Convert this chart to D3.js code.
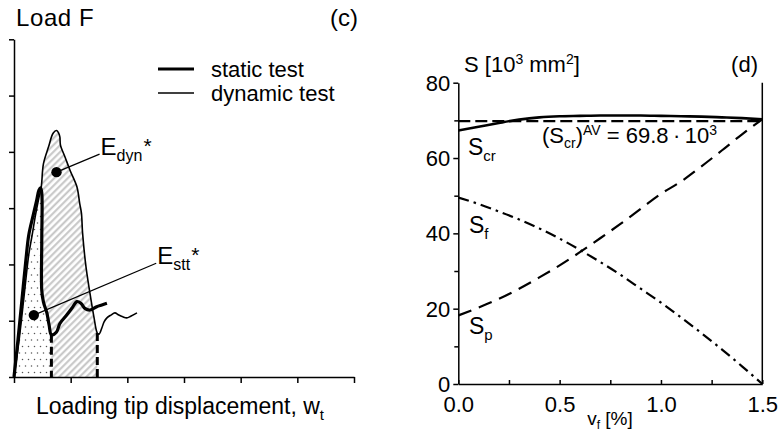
<!DOCTYPE html>
<html>
<head>
<meta charset="utf-8">
<script src="https://cdn.jsdelivr.net/npm/d3@7"></script>
<style>
  html, body { margin: 0; padding: 0; background: #fff; }
  svg text { font-family: "Liberation Sans", Arial, sans-serif; fill: #000; }
</style>
</head>
<body>
<svg id="chart" width="778" height="438"></svg>
<script>
"use strict";

// ---- panel (c): load vs. loading tip displacement (arbitrary units 0..6) ----
const gridTicks = [0, 1, 2, 3, 4, 5, 6];
// thick curve, static test: [w, F]
const staticCurve = [
  [0, 0], [0.07, 0.66], [0.14, 1.37], [0.21, 2.08], [0.26, 2.52], [0.34, 2.88],
  [0.40, 3.14], [0.44, 3.32], [0.47, 3.36], [0.49, 3.27], [0.49, 2.43], [0.49, 1.54],
  [0.52, 1.33], [0.58, 1.14], [0.62, 0.92], [0.66, 0.75], [0.75, 0.80], [0.81, 0.95],
  [0.93, 1.10], [1.02, 1.22], [1.11, 1.34], [1.18, 1.31], [1.25, 1.22], [1.34, 1.19],
  [1.46, 1.25], [1.55, 1.28], [1.64, 1.31]
];
const staticDip = 15; // index of the point where the dashed drop line sits
// thin curve, dynamic test
const dynamicCurve = [
  [0, 0], [0.09, 0.66], [0.18, 1.46], [0.26, 2.17], [0.32, 2.52], [0.38, 2.88],
  [0.43, 3.14], [0.48, 3.37], [0.52, 3.79], [0.61, 4.09], [0.69, 4.33], [0.75, 4.38],
  [0.79, 4.33], [0.81, 4.26], [0.82, 4.12], [0.90, 3.91], [0.99, 3.67], [1.11, 3.38],
  [1.16, 3.08], [1.19, 2.91], [1.21, 2.56], [1.27, 1.96], [1.34, 1.49], [1.41, 1.07],
  [1.47, 0.78], [1.50, 0.76], [1.55, 0.87], [1.59, 0.98], [1.64, 1.05], [1.71, 1.10],
  [1.78, 1.14], [1.85, 1.10], [1.92, 1.07], [1.99, 1.05], [2.06, 1.08], [2.17, 1.14]
];
const dynamicDip = 24;
const energyDots = [
  { name: "dyn", at: [0.75, 3.64], to: [1.51, 3.96] },
  { name: "stt", at: [0.35, 1.10], to: [2.51, 2.02] }
];

// ---- panel (d): S vs. fibre volume fraction ----
const vf = [0, 0.1, 0.2, 0.3, 0.4, 0.5, 0.6, 0.7, 0.8, 0.9, 1.0, 1.1, 1.2, 1.3, 1.4, 1.5];
const sCr = [67.3, 68.3, 69.3, 70.2, 70.8, 71.1, 71.2, 71.3, 71.3, 71.3, 71.2, 71.1, 71.0, 70.8, 70.6, 70.3];
const sF = [49.5, 47.8, 45.8, 43.7, 41.3, 38.6, 35.6, 32.4, 29.0, 25.3, 21.6, 17.6, 13.5, 9.2, 4.7, 0];
const sP = [18.2, 20.3, 22.6, 25.3, 28.3, 31.5, 35.0, 38.7, 42.5, 46.5, 50.5, 53.8, 57.8, 62.0, 66.3, 70.3];
const sCrAv = 69.8;
const yMajor = [0, 20, 40, 60, 80];
const yMinor = [10, 30, 50, 70];
const xTicks = [0, 0.25, 0.5, 0.75, 1.0, 1.25, 1.5];

const svg = d3.select("#chart");
svg.append("rect").attr("width", 778).attr("height", 438).attr("fill", "#fff");

const defs = svg.append("defs");
const hatch = defs.append("pattern").attr("id", "hatch").attr("patternUnits", "userSpaceOnUse")
  .attr("width", 4.8).attr("height", 4.8).attr("patternTransform", "rotate(45)");
hatch.append("rect").attr("width", 4.8).attr("height", 4.8).attr("fill", "#fff");
hatch.append("line").attr("x1", 1.2).attr("y1", 0).attr("x2", 1.2).attr("y2", 4.8)
  .attr("stroke", "#c4c4c4").attr("stroke-width", 2);
const dots = defs.append("pattern").attr("id", "dots").attr("patternUnits", "userSpaceOnUse")
  .attr("width", 6).attr("height", 13);
dots.append("rect").attr("width", 6).attr("height", 13).attr("fill", "#fff");
dots.append("circle").attr("cx", 1.5).attr("cy", 2).attr("r", 0.75).attr("fill", "#555");
dots.append("circle").attr("cx", 4.5).attr("cy", 8.5).attr("r", 0.75).attr("fill", "#555");

// ================= panel (c) =================
const xL = d3.scaleLinear([0, 6], [14, 354]);
const yL = d3.scaleLinear([0, 6], [377, 39.3]);
const gL = svg.append("g");

const smooth = d3.line().x(d => xL(d[0])).y(d => yL(d[1])).curve(d3.curveCatmullRom.alpha(0.5));
function areaTo(pts, dipIdx) {
  const part = pts.slice(0, dipIdx + 1);
  const dip = part[part.length - 1];
  return smooth(part) + `L${xL(dip[0])},${yL(0)}L${xL(0)},${yL(0)}Z`;
}

gL.append("path").attr("d", areaTo(dynamicCurve, dynamicDip)).attr("fill", "url(#hatch)");
gL.append("path").attr("d", areaTo(staticCurve, staticDip)).attr("fill", "url(#dots)");

[[staticCurve, staticDip], [dynamicCurve, dynamicDip]].forEach(([pts, i]) => {
  gL.append("line")
    .attr("x1", xL(pts[i][0])).attr("x2", xL(pts[i][0]))
    .attr("y1", yL(pts[i][1])).attr("y2", yL(0))
    .attr("stroke", "#000").attr("stroke-width", 3).attr("stroke-dasharray", "8,4");
});

gL.append("path").attr("d", smooth(dynamicCurve)).attr("fill", "none")
  .attr("stroke", "#000").attr("stroke-width", 1.6).attr("stroke-linejoin", "round");
gL.append("path").attr("d", smooth(staticCurve)).attr("fill", "none")
  .attr("stroke", "#000").attr("stroke-width", 3.2).attr("stroke-linejoin", "round");

energyDots.forEach(e => {
  gL.append("line").attr("x1", xL(e.at[0])).attr("y1", yL(e.at[1]))
    .attr("x2", xL(e.to[0])).attr("y2", yL(e.to[1]))
    .attr("stroke", "#000").attr("stroke-width", 1.2);
  gL.append("circle").attr("cx", xL(e.at[0])).attr("cy", yL(e.at[1])).attr("r", 5.2).attr("fill", "#000");
  const t = gL.append("text").attr("x", xL(e.to[0]) + 1).attr("y", yL(e.to[1]) + 0.5)
    .attr("font-size", 24);
  t.append("tspan").text("E");
  t.append("tspan").attr("font-size", 16).attr("dy", 6).text(e.name);
  t.append("tspan").attr("font-size", 21).attr("dy", -8).attr("dx", 1).text("*");
});

gL.append("g").attr("transform", `translate(${xL(0)},0)`)
  .call(d3.axisLeft(yL).tickValues(gridTicks).tickSize(5).tickSizeOuter(0).tickFormat(""));
gL.append("g").attr("transform", `translate(0,${yL(0)})`)
  .call(d3.axisBottom(xL).tickValues(gridTicks).tickSize(6).tickSizeOuter(0).tickFormat(""));

// legend
const legendRows = [{ label: "static test", w: 3.2 }, { label: "dynamic test", w: 1.6 }];
legendRows.forEach((r, i) => {
  const y = 69 + i * 24;
  gL.append("line").attr("x1", 158).attr("x2", 194).attr("y1", y).attr("y2", y)
    .attr("stroke", "#000").attr("stroke-width", r.w);
  gL.append("text").attr("x", 211).attr("y", y + 7.5).attr("font-size", 22).text(r.label);
});

gL.append("text").attr("x", 16).attr("y", 26).attr("font-size", 24)
  .attr("letter-spacing", 0.6).text("Load F");
gL.append("text").attr("x", 358).attr("y", 26).attr("font-size", 24).attr("text-anchor", "end").text("(c)");
const xt = gL.append("text").attr("x", 36).attr("y", 414).attr("font-size", 23);
xt.append("tspan").text("Loading tip displacement, w");
xt.append("tspan").attr("font-size", 15).attr("dy", 6).text("t");

// ================= panel (d) =================
const xR = d3.scaleLinear([0, 1.5], [458.3, 762.3]);
const yR = d3.scaleLinear([0, 80], [384, 82.7]);
const gR = svg.append("g");

const lineR = d3.line().x(d => xR(d[0])).y(d => yR(d[1])).curve(d3.curveMonotoneX);
const zipped = ys => vf.map((v, i) => [v, ys[i]]);

gR.append("path").attr("d", lineR([[0, sCrAv], [1.5, sCrAv]])).attr("fill", "none")
  .attr("stroke", "#000").attr("stroke-width", 2.2).attr("stroke-dasharray", "12,5");
gR.append("path").attr("d", lineR(zipped(sP))).attr("fill", "none")
  .attr("stroke", "#000").attr("stroke-width", 2.2).attr("stroke-dasharray", "14,8");
gR.append("path").attr("d", lineR(zipped(sF))).attr("fill", "none")
  .attr("stroke", "#000").attr("stroke-width", 2.2).attr("stroke-dasharray", "11,5,2.5,5");
gR.append("path").attr("d", lineR(zipped(sCr))).attr("fill", "none")
  .attr("stroke", "#000").attr("stroke-width", 2.6);

gR.append("g").attr("transform", `translate(${xR(0)},0)`)
  .call(d3.axisLeft(yR).tickValues(yMajor).tickSize(5).tickSizeOuter(0).tickPadding(3))
  .call(g => g.selectAll("text").attr("font-size", 22).attr("dy", "0.34em"));
gR.append("g").attr("transform", `translate(${xR(0)},0)`)
  .call(d3.axisLeft(yR).tickValues(yMinor).tickSize(4).tickSizeOuter(0).tickFormat(""))
  .call(g => g.select(".domain").remove());
gR.append("g").attr("transform", `translate(0,${yR(0)})`)
  .call(d3.axisBottom(xR).tickValues(xTicks).tickSize(-4).tickSizeOuter(0).tickPadding(12)
    .tickFormat(d => (Math.round(d * 100) % 50 === 0 ? d.toFixed(1) : "")))
  .call(g => g.selectAll("text").attr("font-size", 22));
gR.append("line").attr("x1", xR(1.5)).attr("x2", xR(1.5)).attr("y1", yR(0)).attr("y2", yR(80))
  .attr("stroke", "#000").attr("stroke-width", 1.5);
svg.selectAll(".domain, .tick line").attr("stroke-width", 1.5);

function subLabel(x, y, main, sub) {
  const t = gR.append("text").attr("x", x).attr("y", y).attr("font-size", 23);
  t.append("tspan").text(main);
  t.append("tspan").attr("font-size", 15).attr("dy", 6).text(sub);
}
subLabel(468, 155, "S", "cr");
subLabel(469, 233, "S", "f");
subLabel(469, 334, "S", "p");

const av = gR.append("text").attr("x", 542).attr("y", 143).attr("font-size", 22);
av.append("tspan").text("(S");
av.append("tspan").attr("font-size", 14).attr("dy", 5).text("cr");
av.append("tspan").attr("dy", -5).text(")");
av.append("tspan").attr("font-size", 14).attr("dy", -8).text("AV");
av.append("tspan").attr("dy", 8).text(" = 69.8\u2009\u00b7\u200910");
av.append("tspan").attr("font-size", 14).attr("dy", -8).text("3");

const st = gR.append("text").attr("x", 464).attr("y", 72).attr("font-size", 22);
st.append("tspan").text("S [10");
st.append("tspan").attr("font-size", 14).attr("dy", -8).text("3");
st.append("tspan").attr("dy", 8).text(" mm");
st.append("tspan").attr("font-size", 14).attr("dy", -8).text("2");
st.append("tspan").attr("dy", 8).text("]");
gR.append("text").attr("x", 758).attr("y", 72).attr("font-size", 22).attr("text-anchor", "end").text("(d)");

const vt = gR.append("text").attr("x", 610).attr("y", 425).attr("font-size", 19).attr("text-anchor", "middle");
vt.append("tspan").text("v");
vt.append("tspan").attr("font-size", 12).attr("dy", 4).text("f");
vt.append("tspan").attr("dy", -4).text(" [%]");
</script>
</body>
</html>
